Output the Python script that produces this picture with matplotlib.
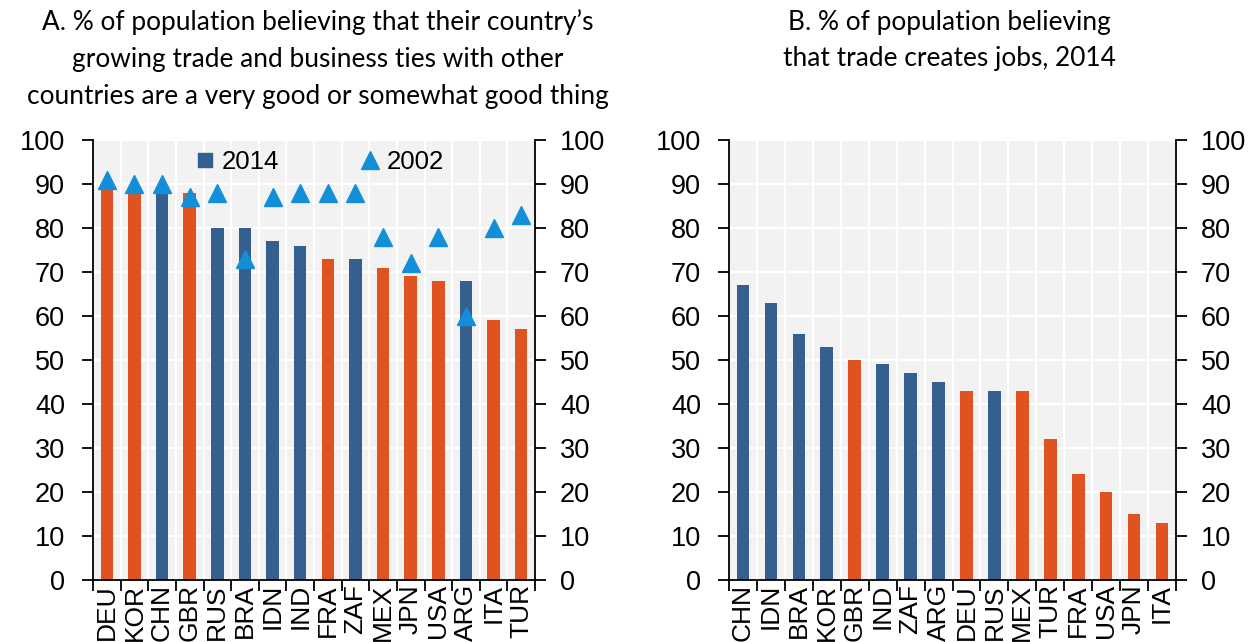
import numpy as np
import matplotlib.pyplot as plt
from matplotlib.lines import Line2D

# panel A
a_countries = ['DEU', 'KOR', 'CHN', 'GBR', 'RUS', 'BRA', 'IDN', 'IND',
               'FRA', 'ZAF', 'MEX', 'JPN', 'USA', 'ARG', 'ITA', 'TUR']
a_2014 = [89, 88, 88, 88, 80, 80, 77, 76, 73, 73, 71, 69, 68, 68, 59, 57]
a_2002 = [91, 90, 90, 87, 88, 73, 87, 88, 88, 88, 78, 72, 78, 60, 80, 83]
a_oecd = [1, 1, 0, 1, 0, 0, 0, 0, 1, 0, 1, 1, 1, 0, 1, 1]

# panel B
b_countries = ['CHN', 'IDN', 'BRA', 'KOR', 'GBR', 'IND', 'ZAF', 'ARG',
               'DEU', 'RUS', 'MEX', 'TUR', 'FRA', 'USA', 'JPN', 'ITA']
b_2014 = [67, 63, 56, 53, 50, 49, 47, 45, 43, 43, 43, 32, 24, 20, 15, 13]
b_oecd = [0, 0, 0, 0, 1, 0, 0, 0, 1, 0, 1, 1, 1, 1, 1, 1]

yticks = list(range(0, 101, 10))

ORANGE = '#E0521F'
BLUE = '#355F8F'
TRI = '#138FD9'
BG = '#F2F2F2'
FS = 19.5

plt.rcParams['font.family'] = ['Liberation Sans Narrow', 'Liberation Sans', 'DejaVu Sans']


def setup_axes(ax, labels):
    n = len(labels)
    ax.set_facecolor(BG)
    ax.set_xlim(-0.5, n - 0.5)
    ax.set_ylim(0, 100)
    ax.set_yticks(yticks)
    ax.set_xticks(np.arange(n))
    ax.set_xticklabels(labels, rotation=90, fontsize=19)
    ax.set_xticks(np.arange(n + 1) - 0.5, minor=True)
    ax.tick_params(axis='x', which='major', length=0, pad=3)
    ax.tick_params(axis='x', which='minor', length=8, width=1.3, direction='out')
    ax.tick_params(axis='y', length=8, width=1.3, direction='out', labelsize=FS, pad=12)
    ax.grid(axis='y', which='major', color='white', lw=1.6)
    ax.grid(axis='x', which='minor', color='white', lw=1.6)
    ax.set_axisbelow(True)
    ax.spines['top'].set_visible(False)
    ax.spines['right'].set_visible(False)
    for s in ['left', 'bottom']:
        ax.spines[s].set_linewidth(1.3)
    ax2 = ax.twinx()
    ax2.set_ylim(0, 100)
    ax2.set_yticks(yticks)
    ax2.tick_params(axis='y', length=8, width=1.3, direction='out', labelsize=FS, pad=10)
    for s in ['top', 'left', 'bottom']:
        ax2.spines[s].set_visible(False)
    ax2.spines['right'].set_linewidth(1.3)
    return ax2


fig = plt.figure(figsize=(12.5, 6.42), dpi=100)
axA = fig.add_axes([0.0744, 0.0966, 0.3536, 0.6854])
axB = fig.add_axes([0.5832, 0.0966, 0.3576, 0.6854])

setup_axes(axA, a_countries)
xa = np.arange(len(a_countries))
colA = [ORANGE if o else BLUE for o in a_oecd]
axA.bar(xa, a_2014, width=0.45, color=colA, zorder=2)
axA.plot(xa, a_2002, ls='none', marker='^', ms=13.5, color=TRI, zorder=3)
handles = [Line2D([], [], ls='none', marker='s', ms=10, color=BLUE),
           Line2D([], [], ls='none', marker='^', ms=13.5, color=TRI)]
axA.legend(handles, ['2014', '2002'], ncol=2, frameon=False, fontsize=18.5,
           loc='upper center', bbox_to_anchor=(0.508, 1.03), handletextpad=0.1,
           columnspacing=3.0, handlelength=1.1)

setup_axes(axB, b_countries)
xb = np.arange(len(b_countries))
colB = [ORANGE if o else BLUE for o in b_oecd]
axB.bar(xb, b_2014, width=0.45, color=colB, zorder=2)

tfont = dict(family=['Lato', 'DejaVu Sans'], fontsize=18.9, ha='center', va='top',
             linespacing=1.58)
fig.text(0.2545, 0.985,
         "A. % of population believing that their country\u2019s\n"
         "growing trade and business ties with other\n"
         "countries are a very good or somewhat good thing", **tfont)
fig.text(0.7595, 0.985,
         "B. % of population believing\nthat trade creates jobs, 2014", **tfont)

fig.savefig('out.png', dpi=100)
